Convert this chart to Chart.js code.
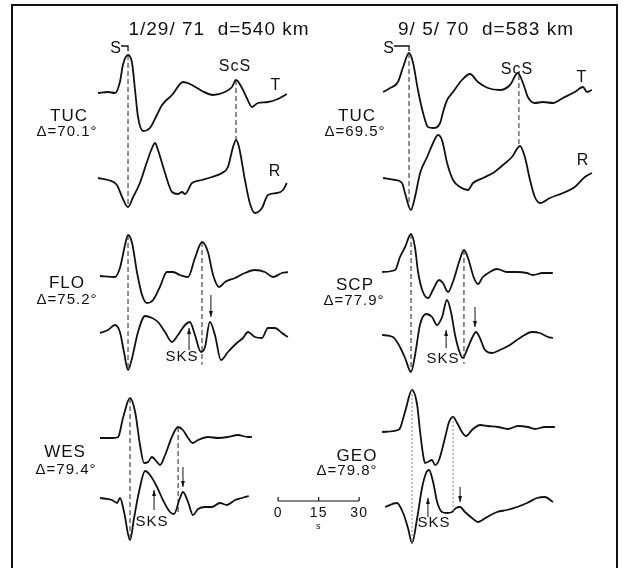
<!DOCTYPE html>
<html>
<head>
<meta charset="utf-8">
<script src="https://cdn.jsdelivr.net/npm/chart.js@4.4.1/dist/chart.umd.min.js"></script>
<style>
  html, body { margin: 0; padding: 0; background: #fff; }
  #wrap { width: 627px; height: 568px; }
</style>
</head>
<body>
<div id="wrap"><canvas id="myChart" width="627" height="568"></canvas></div>
<script>
// two events, three stations each
const eventDates = ['1/29/ 71', '9/ 5/ 70'];
const eventDepths = [540, 583];
const stationNames = ['TUC', 'FLO', 'WES', 'TUC', 'SCP', 'GEO'];
const stationDistances = ['70.1', '75.2', '79.4', '69.5', '77.9', '79.8'];

// time (s after S) of second dashed phase, SKS arrival, and late arrow
const phase2Times = [40.0, 27.4, 17.8, 40.7, 19.6, 15.2];
const sksTimes = [null, 22.6, 8.9, null, 13.0, 5.9];
const arrowTimes = [null, 30.7, 19.6, null, 23.7, 17.8];

// scale bar ticks, seconds
const scaleTicks = [0, 15, 30];

// traces: [time in s relative to S, amplitude]
const tuc71T = [[-11.1,0],[-7.4,1],[-4.8,0],[-3.0,11],[-1.9,28],[0,38],[1.5,30],[2.6,3],[3.7,-24],[5.6,-38],[8.1,-35],[10.7,-22],[12.6,-12],[16.3,-2],[20.4,11],[23.7,8],[27.4,2],[31.5,-2],[35.9,1],[38.5,6],[40.0,13],[42.2,5],[44.0,-5],[45.9,-14],[48.1,-10],[51.8,-9],[55.5,-6],[58.8,-1]];
const tuc71R = [[-11.1,2],[-7.4,0],[-4.1,-5],[-2.2,-17],[0,-27],[1.9,-17],[4.4,-3],[7.0,18],[8.9,32],[10.0,37],[11.1,30],[13.7,7],[16.3,-12],[18.5,-14],[20.0,-12],[21.1,-14],[23.7,-3],[27.4,0],[31.1,3],[34.8,7],[37.0,13],[38.9,33],[40.0,40],[41.1,33],[43.3,0],[45.1,-23],[47.0,-33],[49.6,-28],[51.8,-15],[55.1,-13],[57.4,-10],[58.8,-3]];
const floT = [[-10.4,0],[-4.8,-1],[-3.0,8],[-1.1,31],[0,41],[1.5,33],[3.3,4],[5.2,-19],[7.0,-27],[9.3,-24],[11.8,-11],[14.4,4],[16.7,4],[19.2,1],[22.2,-1],[24.8,18],[27.4,34],[29.6,24],[31.5,1],[33.7,-11],[35.9,-6],[39.6,-2],[43.3,3],[47.0,6],[50.7,4],[53.7,-1],[57.0,3],[59.2,4]];
const floR = [[-10.4,0],[-7.4,3],[-4.8,8],[-3.0,1],[-1.5,-19],[0,-37],[1.5,-25],[3.7,1],[6.3,17],[8.9,15],[11.1,11],[13.7,1],[16.3,-9],[18.5,-2],[21.1,8],[22.9,11],[24.8,-2],[27.0,-19],[28.5,-14],[30.3,11],[32.2,-2],[34.4,-27],[37.0,-19],[40.3,-10],[42.6,-5],[44.4,1],[47.0,-4],[49.6,-5],[51.8,5],[54.4,5],[57.0,0],[59.2,-4]];
const wesT = [[-11.1,0],[-6.3,0],[-4.4,1],[-2.6,20],[0,40],[1.9,26],[3.7,-7],[5.2,-25],[6.7,-24],[8.1,-19],[10.0,-24],[11.1,-27],[13.0,-17],[15.5,1],[17.8,11],[19.6,8],[21.5,0],[23.3,-5],[25.2,-2],[28.9,1],[32.6,0],[36.3,1],[39.9,3],[43.7,1],[45.1,1]];
const wesR = [[-11.1,2],[-6.7,0],[-4.8,-3],[-3.7,2],[-2.2,-12],[0,-40],[1.5,-18],[3.3,8],[5.6,29],[7.4,25],[10.0,13],[12.2,0],[14.8,-12],[16.3,-14],[18.5,2],[19.6,8],[21.5,-2],[23.3,-15],[25.2,-9],[27.8,-7],[30.3,-7],[33.3,-3],[35.9,-5],[38.9,0],[41.4,2],[44.0,4]];
const tuc70T = [[-9.6,0],[-7.0,4],[-4.1,10],[-2.2,25],[0,39],[1.5,29],[3.3,2],[5.2,-21],[7.0,-35],[8.9,-36],[11.5,-31],[12.6,-20],[14.1,-8],[16.3,0],[19.6,12],[22.6,18],[25.5,10],[29.2,4],[33.7,2],[37.4,7],[40.3,19],[42.2,9],[44.0,-5],[46.6,-11],[49.6,-10],[53.3,-11],[57.0,-6],[61.4,0],[64.4,5],[65.9,0],[67.7,2]];
const tuc70R = [[-9.6,2],[-5.2,0],[-2.6,-3],[-1.5,-13],[0.7,-30],[2.2,-17],[4.1,7],[6.7,23],[8.9,37],[10.7,45],[12.2,40],[14.1,17],[16.3,0],[18.9,-7],[21.8,-10],[23.7,-3],[27.4,2],[31.1,7],[34.8,15],[38.1,23],[41.1,34],[42.9,23],[44.8,0],[46.6,-17],[48.5,-23],[52.2,-18],[57.0,-13],[61.4,-7],[65.1,3],[67.7,7]];
const scpT = [[-10.7,0],[-5.9,2],[-4.1,15],[-2.2,25],[0,38],[1.5,24],[2.6,0],[4.4,-20],[6.3,-26],[8.1,-18],[10.4,-8],[11.8,-11],[13.7,-20],[15.5,-10],[17.8,10],[19.6,22],[21.1,14],[23.3,-6],[24.8,-12],[26.6,-5],[29.2,0],[31.8,3],[35.5,0],[39.2,0],[42.9,-1],[45.1,-3],[48.8,-1],[52.5,-1]];
const scpR = [[-10.7,2],[-6.7,0],[-4.1,-10],[-2.2,-21],[0,-35],[1.5,-18],[3.3,12],[5.6,23],[7.8,20],[9.6,12],[11.5,20],[13.3,37],[14.8,25],[16.3,2],[18.1,-16],[19.2,-21],[20.7,-13],[22.6,-1],[24.1,5],[25.5,-1],[27.4,-13],[30.0,-16],[32.9,-13],[36.6,-8],[40.3,-1],[44.8,5],[47.7,4],[50.7,0],[52.5,-1]];
const geoT = [[-11.1,-3],[-5.2,-1],[-4.4,1],[-2.6,17],[0,39],[1.9,24],[3.0,-3],[4.1,-26],[4.8,-34],[5.9,-33],[7.4,-31],[8.5,-36],[10.0,-31],[12.2,-9],[13.7,7],[15.2,12],[16.7,6],[18.5,-3],[20.0,-7],[22.2,-1],[25.2,4],[28.1,3],[31.8,2],[35.5,0],[39.2,3],[42.9,2],[45.5,0],[49.2,2],[52.9,2]];
const geoR = [[-10.0,-2],[-5.6,2],[-3.3,-8],[-1.5,-23],[0,-38],[1.9,-13],[3.7,17],[5.2,32],[6.3,35],[7.8,23],[9.3,3],[11.1,-7],[13.0,-8],[14.8,-7],[16.3,-3],[17.8,-2],[19.6,-7],[22.2,-13],[24.4,-17],[27.8,-12],[31.5,-7],[35.2,-5],[38.9,-2],[42.6,2],[46.3,7],[49.2,8],[52.2,3]];

const traceT = [tuc71T, floT, wesT, tuc70T, scpT, geoT];
const traceR = [tuc71R, floR, wesR, tuc70R, scpR, geoR];

// layout: S time on the page axis (s), baselines (page units, downwards)
const layout = [
  { t0: 47.41, baseT: 93, baseR: 180, name: [69, 116], dist: [67, 132], extra: 0 },
  { t0: 47.41, baseT: 276, baseR: 333, name: [67, 283], dist: [67, 300], sks: [-17, 5], arr: [38, 16], extra: 14 },
  { t0: 48.15, baseT: 438, baseR: 500, name: [65, 452], dist: [66, 470], sks: [-10, 10], arr: [33, 13], extra: 12 },
  { t0: 151.48, baseT: 92, baseR: 180, name: [357, 116], dist: [355, 132], extra: 0 },
  { t0: 152.22, baseT: 272, baseR: 337, name: [355, 285], dist: [354, 301], sks: [-11, 7], arr: [30, 10], extra: 8 },
  { t0: 152.59, baseT: 429, baseR: 505, name: [357, 456], dist: [347, 471], sks: [-12, 7], arr: [18, 3], extra: 0 }
];
const scaleOrigin = 103.0;
const FONT = '"Liberation Sans", Arial, sans-serif';

function ampAt(arr, t) {
  for (let i = 1; i < arr.length; i++) {
    if (arr[i][0] >= t) {
      const a = arr[i - 1], b = arr[i];
      return a[1] + (b[1] - a[1]) * (t - a[0]) / (b[0] - a[0]);
    }
  }
  return arr[arr.length - 1][1];
}

let datasets = [];
for (let i = 0; i < layout.length; i++) {
  const L = layout[i];
  datasets.push({ data: traceT[i].map(p => ({ x: L.t0 + p[0], y: L.baseT - p[1] })) });
  datasets.push({ data: traceR[i].map(p => ({ x: L.t0 + p[0], y: L.baseR - p[1] })) });
}
datasets.forEach(d => {
  d.borderColor = '#111';
  d.borderWidth = 1.8;
  d.pointRadius = 0;
  d.fill = false;
  d.cubicInterpolationMode = 'monotone';
});

function arrow(ctx, x, y1, y2) {
  // from y1 to y2, head at y2
  ctx.beginPath();
  ctx.moveTo(x, y1);
  ctx.lineTo(x, y2);
  ctx.stroke();
  const dir = y2 > y1 ? 1 : -1;
  ctx.beginPath();
  ctx.moveTo(x, y2);
  ctx.lineTo(x - 2, y2 - dir * 6);
  ctx.lineTo(x + 2, y2 - dir * 6);
  ctx.closePath();
  ctx.fill();
}

const annotations = {
  id: 'annotations',
  afterDatasetsDraw(chart) {
    const ctx = chart.ctx;
    const xs = chart.scales.x, ys = chart.scales.y;
    const X = v => xs.getPixelForValue(v);
    const Y = v => ys.getPixelForValue(v);
    ctx.save();
    ctx.strokeStyle = '#111';
    ctx.fillStyle = '#111';

    // frame
    ctx.lineWidth = 2;
    ctx.beginPath();
    ctx.moveTo(12, 568); ctx.lineTo(12, 5); ctx.lineTo(617, 5); ctx.lineTo(617, 568);
    ctx.stroke();

    // dashed phase lines
    for (let i = 0; i < layout.length; i++) {
      const L = layout[i];
      const faint = stationNames[i] === 'GEO';
      ctx.strokeStyle = faint ? '#888' : '#222';
      ctx.lineWidth = 1;
      ctx.setLineDash(faint ? [2, 2] : [5, 3]);
      [0, phase2Times[i]].forEach((t, k) => {
        ctx.beginPath();
        ctx.moveTo(X(L.t0 + t), Y(L.baseT - ampAt(traceT[i], t)));
        ctx.lineTo(X(L.t0 + t), Y(L.baseR - ampAt(traceR[i], t) + (k ? L.extra : 0)));
        ctx.stroke();
      });
    }
    ctx.setLineDash([]);
    ctx.strokeStyle = '#111';
    ctx.lineWidth = 1;

    // arrows
    for (let i = 0; i < layout.length; i++) {
      const L = layout[i];
      if (sksTimes[i] !== null) {
        arrow(ctx, X(L.t0 + sksTimes[i]), Y(L.baseR - L.sks[0]), Y(L.baseR - L.sks[1]));
      }
      if (arrowTimes[i] !== null) {
        arrow(ctx, X(L.t0 + arrowTimes[i]), Y(L.baseR - L.arr[0]), Y(L.baseR - L.arr[1]));
      }
    }

    // text
    ctx.textAlign = 'center';
    ctx.textBaseline = 'middle';
    ctx.letterSpacing = '1px';
    ctx.font = '19px ' + FONT;
    ctx.fillText(eventDates[0] + '  d=' + eventDepths[0] + ' km', 219, 30);
    ctx.fillText(eventDates[1] + '  d=' + eventDepths[1] + ' km', 486, 30);

    for (let i = 0; i < layout.length; i++) {
      const L = layout[i];
      ctx.font = '17px ' + FONT;
      ctx.fillText(stationNames[i], L.name[0], L.name[1]);
      ctx.font = '15px ' + FONT;
      ctx.fillText('\u0394=' + stationDistances[i] + '\u00b0', L.dist[0], L.dist[1]);
    }

    ctx.font = '16px ' + FONT;
    ctx.fillText('S', 116, 49);
    ctx.fillText('S', 389, 49);
    ctx.fillText('ScS', 235, 67);
    ctx.fillText('ScS', 517, 70);
    ctx.fillText('T', 276, 86);
    ctx.fillText('R', 275, 172);
    ctx.fillText('T', 582, 78);
    ctx.fillText('R', 583, 161);
    ctx.font = '15px ' + FONT;
    ctx.fillText('SKS', 182, 357);
    ctx.fillText('SKS', 443, 359);
    ctx.fillText('SKS', 152, 522);
    ctx.fillText('SKS', 434, 523);

    // S brackets
    ctx.lineWidth = 1.3;
    ctx.beginPath();
    ctx.moveTo(121, 46); ctx.lineTo(X(layout[0].t0), 46); ctx.lineTo(X(layout[0].t0), 51);
    ctx.moveTo(394, 46); ctx.lineTo(X(layout[3].t0), 46); ctx.lineTo(X(layout[3].t0), 51);
    ctx.stroke();

    // scale bar
    const yb = 501;
    ctx.lineWidth = 1.2;
    ctx.beginPath();
    ctx.moveTo(X(scaleOrigin + scaleTicks[0]), yb);
    ctx.lineTo(X(scaleOrigin + scaleTicks[scaleTicks.length - 1]), yb);
    scaleTicks.forEach(t => { ctx.moveTo(X(scaleOrigin + t), yb); ctx.lineTo(X(scaleOrigin + t), yb - 4); });
    ctx.stroke();
    ctx.font = '14px ' + FONT;
    scaleTicks.forEach(t => ctx.fillText(String(t), X(scaleOrigin + t), 513));
    ctx.font = '9px ' + FONT;
    ctx.fillText('s', X(scaleOrigin + 15), 527);
    ctx.restore();
  }
};

var ctx = document.getElementById('myChart').getContext('2d');
var chart = new Chart(ctx, {
  type: 'line',
  data: { datasets: datasets },
  options: {
    responsive: false,
    animation: false,
    devicePixelRatio: 1,
    layout: { padding: 0 },
    plugins: { legend: { display: false }, tooltip: { enabled: false } },
    scales: {
      x: { type: 'linear', display: false, min: 0, max: 232.2 },
      y: { type: 'linear', display: false, reverse: true, min: 0, max: 568 }
    }
  },
  plugins: [annotations]
});
</script>
</body>
</html>
